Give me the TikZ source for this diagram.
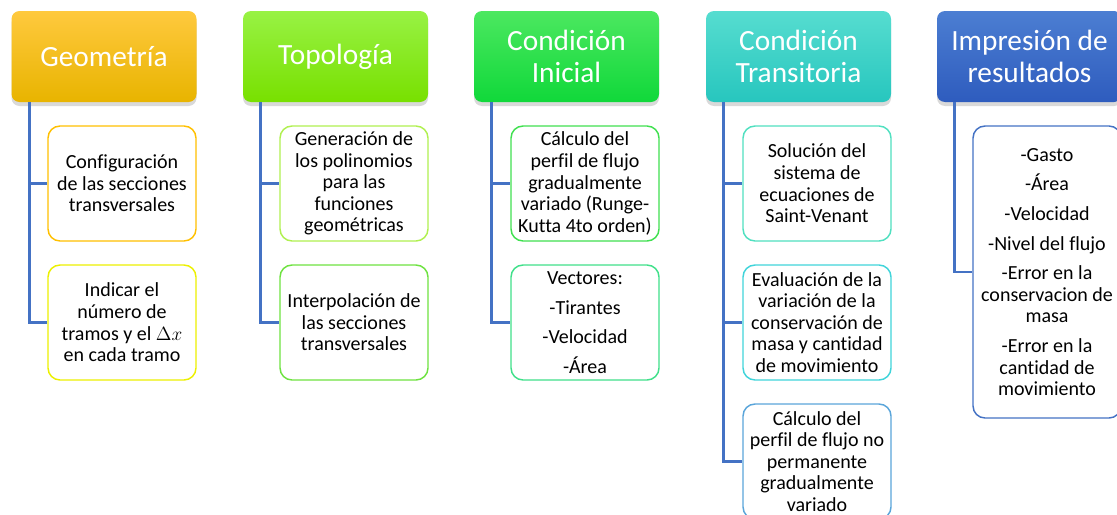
\documentclass[tikz,border=0pt]{standalone}
\usepackage{color}
\usepackage{fontspec}
\setmainfont{Carlito}[Ligatures=CommonOff]
\usetikzlibrary{shadows}

\definecolor{linkblue}{HTML}{4472C4}
\definecolor{geotop}{HTML}{FFC93E}
\definecolor{geobot}{HTML}{E8B400}
\definecolor{topotop}{HTML}{98F244}
\definecolor{topobot}{HTML}{78E000}
\definecolor{initop}{HTML}{4CE860}
\definecolor{inibot}{HTML}{10D83A}
\definecolor{transtop}{HTML}{56DDD0}
\definecolor{transbot}{HTML}{27C6BE}
\definecolor{imptop}{HTML}{4C7ED2}
\definecolor{impbot}{HTML}{2E5CBE}

\begin{document}
\begin{tikzpicture}
  [x=0.75pt,y=-0.75pt,
   head/.style={rounded corners=6pt,minimum width=138.75pt,minimum height=68.25pt,
     align=center,text=white,font=\fontsize{22}{24}\selectfont,
     drop shadow={shadow xshift=0pt,shadow yshift=-3pt,opacity=.3}},
   leaf/.style={draw,line width=1.1pt,rounded corners=9pt,fill=white,
     minimum width=111pt,minimum height=86.25pt,align=center,
     font=\fontsize{15}{16.2}\selectfont},
   conn/.style={draw=linkblue,line width=2.2pt}]
  \useasboundingbox (0,0) rectangle (1117,514);
  % headers
  \node[head,top color=geotop,bottom color=geobot] (geo) at (104,56.5) {Geometría};
  \node[head,top color=topotop,bottom color=topobot] (topo) at (335.5,56.5) {Topología};
  \node[head,top color=initop,bottom color=inibot] (ini) at (566.5,56.5) {Condición\\Inicial};
  \node[head,top color=transtop,bottom color=transbot] (trans) at (798.5,56.5) {Condición\\Transitoria};
  \node[head,top color=imptop,bottom color=impbot] (imp) at (1029.5,56.5) {Impresión de\\resultados};
  % leaves
  \node[leaf,draw={rgb,255:red,255;green,192;blue,0}] (geo1) at (122,183.5) {Configuración\\de las secciones\\transversales};
  \node[leaf,draw={rgb,255:red,236;green,240;blue,0}] (geo2) at (122,322.5) {Indicar el\\número de\\tramos y el $\Delta x$\\en cada tramo};
  \node[leaf,draw={rgb,255:red,176;green,240;blue,80}] (topo1) at (354,183.5) {Generación de\\los polinomios\\para las\\funciones\\geométricas};
  \node[leaf,draw={rgb,255:red,110;green,226;blue,64}] (topo2) at (354,322.5) {Interpolación de\\las secciones\\transversales};
  \node[leaf,draw={rgb,255:red,64;green,224;blue,80}] (ini1) at (585,183.5) {Cálculo del\\perfil de flujo\\gradualmente\\variado (Runge-\\Kutta 4to orden)};
  \node[leaf,draw={rgb,255:red,64;green,224;blue,138}] (ini2) at (585,322.5) {Vectores:\\[6pt]-Tirantes\\[6pt]-Velocidad\\[6pt]-Área};
  \node[leaf,draw={rgb,255:red,80;green,224;blue,192}] (trans1) at (817,183.5) {Solución del\\sistema de\\ecuaciones de\\Saint-Venant};
  \node[leaf,draw={rgb,255:red,64;green,212;blue,218}] (trans2) at (817,322.5) {Evaluación de la\\variación de la\\conservación de\\masa y cantidad\\de movimiento};
  \node[leaf,draw={rgb,255:red,90;green,165;blue,218}] (trans3) at (817,461.5) {Cálculo del\\perfil de flujo no\\permanente\\gradualmente\\variado};
  \node[leaf,draw=linkblue,minimum height=219pt] (imp1) at (1047,272) {-Gasto\\[6pt]-Área\\[6pt]-Velocidad\\[6pt]-Nivel del flujo\\[6pt]-Error en la\\conservacion de\\masa\\[6pt]-Error en la\\cantidad de\\movimiento};
  % connectors
  \foreach \from/\to in {geo/geo1,geo/geo2,topo/topo1,topo/topo2,ini/ini1,ini/ini2,trans/trans1,trans/trans2,trans/trans3,imp/imp1}
    \draw[conn] ([xshift=13.5pt]\from.south west) |- (\to.west);
\end{tikzpicture}
\end{document}
